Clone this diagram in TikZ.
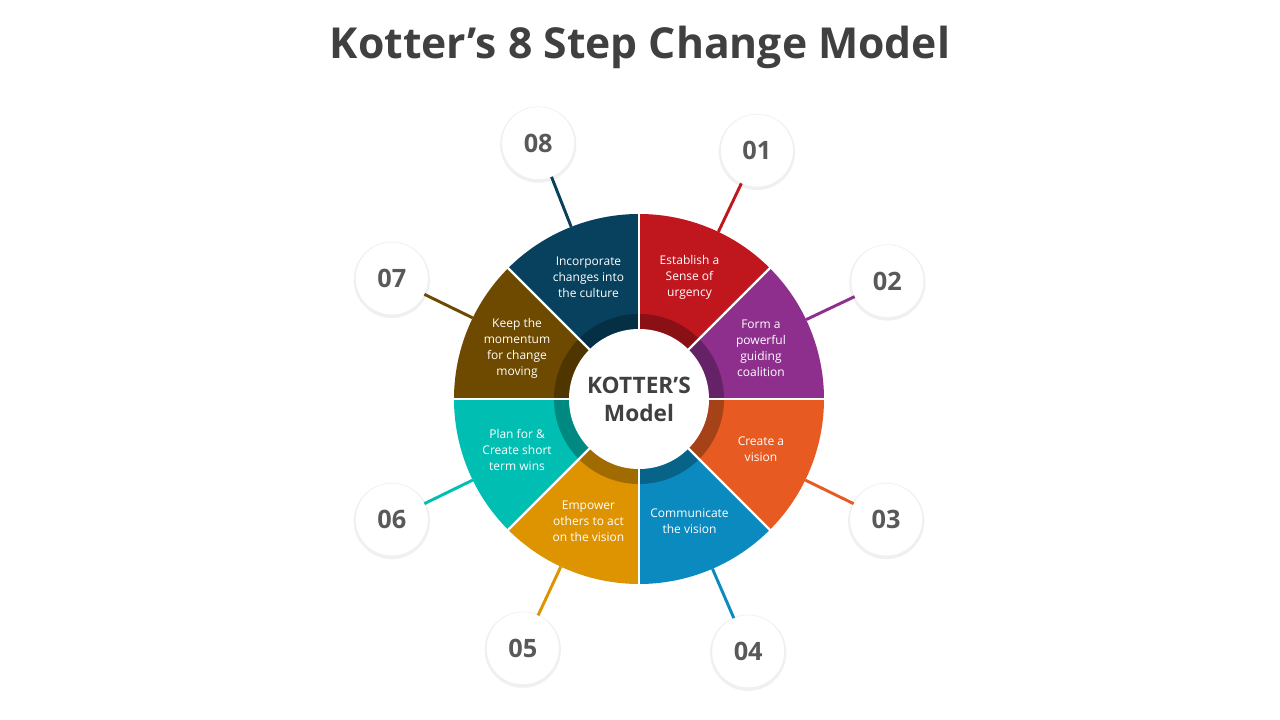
\documentclass[tikz,border=0pt]{standalone}
\usepackage{fontspec}
\setmainfont{Open Sans}
\usetikzlibrary{positioning, shadows}
\definecolor{cone}{HTML}{C0161E}
\definecolor{ctwo}{HTML}{8E2F8E}
\definecolor{cthree}{HTML}{E75B22}
\definecolor{cfour}{HTML}{0B8ABF}
\definecolor{cfive}{HTML}{DE9400}
\definecolor{csix}{HTML}{00BEB2}
\definecolor{cseven}{HTML}{6E4A00}
\definecolor{ceight}{HTML}{07415E}
\definecolor{ink}{HTML}{404040}
\definecolor{numink}{HTML}{595959}
\tikzset{
  segtext/.style={text=white, align=center, font=\fontsize{9}{12}\selectfont},
  badge/.style={circle, fill=white, minimum size=54pt, inner sep=0pt, text=numink,
    font=\fontsize{19}{22}\selectfont\bfseries,
    drop shadow={opacity=0.12, shadow xshift=0pt, shadow yshift=-1pt, shadow scale=1.06}},
  spoke/.style={line width=2.2pt}
}
\begin{document}
\begin{tikzpicture}[x=0.75pt, y=0.75pt]
\useasboundingbox (-639,-321) rectangle (641,399);
\node[text=ink, font=\fontsize{32}{36}\selectfont\bfseries] (title) at (1,352) {Kotter's 8 Step Change Model};
\foreach \a/\b/\c/\t [count=\i] in {
  90/64.6/cone/{Establish a\\Sense of\\urgency},
  45/25.4/ctwo/{Form a\\powerful\\guiding\\coalition},
  0/-26/cthree/{Create a\\vision},
  -45/-66.6/cfour/{Communicate\\the vision},
  -90/-115/cfive/{Empower\\others to act\\on the vision},
  -135/-154/csix/{Plan for \&\\Create short\\term wins},
  180/154/cseven/{Keep the\\momentum\\for change\\moving},
  135/111.5/ceight/{Incorporate\\changes into\\the culture}} {
  \fill[\c] (0,0) -- (\a:185) arc[start angle=\a, end angle=\a-45, radius=185] -- cycle;
  \draw[\c!72!black, line width=11.25pt] (\a:77.5) arc[start angle=\a, end angle=\a-45, radius=77.5];
  \node[segtext] (s\i) at (\a-22.5:132) {\t};
  \coordinate (r\i) at (\b:185);
  \node[badge] (b\i) at (\b:275) {0\i};
  \draw[\c, spoke] (r\i) -- (b\i);
}
\foreach \a in {0,45,...,315}
  \draw[white, line width=1.8pt] (0,0) -- (\a:186);
\node[circle, fill=white, minimum size=105pt, align=center, text=ink,
  font=\fontsize{17}{21}\selectfont\bfseries] (core) at (0,0) {KOTTER'S\\Model};
\end{tikzpicture}
\end{document}
